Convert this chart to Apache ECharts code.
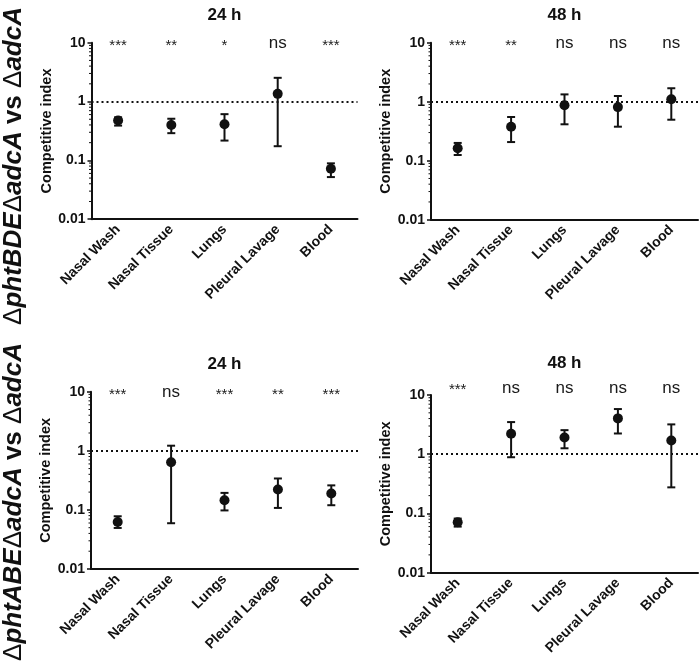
<!DOCTYPE html>
<html>
<head>
<meta charset="utf-8">
<script src="https://cdn.jsdelivr.net/npm/echarts@6/dist/echarts.min.js"></script>
<style>
html,body{margin:0;padding:0;background:#fff;}
#main{width:700px;height:666px;}
</style>
</head>
<body>
<div id="main"></div>
<script>
// ---- data ----
const categories = ['Nasal Wash', 'Nasal Tissue', 'Lungs', 'Pleural Lavage', 'Blood'];
const yTicks = [0.01, 0.1, 1, 10];
const minorTickValues = [0.02,0.03,0.04,0.05,0.06,0.07,0.08,0.09,0.2,0.3,0.4,0.5,0.6,0.7,0.8,0.9,2,3,4,5,6,7,8,9];
const panelTitles = ['24 h', '48 h', '24 h', '48 h'];
const rowLabels = ['phtBDE', 'phtABE'];

const bde24Mean = [0.475, 0.40, 0.41, 1.35, 0.072];
const bde24Low  = [0.39, 0.29, 0.217, 0.174, 0.052];
const bde24High = [0.54, 0.51, 0.61, 2.53, 0.089];
const bde24Sig  = ['***', '**', '*', 'ns', '***'];

const bde48Mean = [0.162, 0.377, 0.87, 0.81, 1.10];
const bde48Low  = [0.125, 0.207, 0.414, 0.377, 0.495];
const bde48High = [0.20, 0.55, 1.33, 1.25, 1.69];
const bde48Sig  = ['***', '**', 'ns', 'ns', 'ns'];

const abe24Mean = [0.0626, 0.64, 0.146, 0.221, 0.19];
const abe24Low  = [0.0495, 0.0595, 0.098, 0.108, 0.12];
const abe24High = [0.078, 1.22, 0.194, 0.34, 0.26];
const abe24Sig  = ['***', 'ns', '***', '**', '***'];

const abe48Mean = [0.0713, 2.21, 1.92, 4.03, 1.71];
const abe48Low  = [0.060, 0.89, 1.26, 2.24, 0.276];
const abe48High = [0.082, 3.49, 2.55, 5.79, 3.19];
const abe48Sig  = ['***', 'ns', 'ns', 'ns', 'ns'];

const refValue = 1;

// ---- layout / style ----
const panels = [
  {mean: bde24Mean, low: bde24Low, high: bde24High, sig: bde24Sig, grid: {left: 91.5, top: 42.7, width: 266, height: 176.5}, sigShift: 0},
  {mean: bde48Mean, low: bde48Low, high: bde48High, sig: bde48Sig, grid: {left: 431, top: 42.7, width: 267, height: 177}, sigShift: 0},
  {mean: abe24Mean, low: abe24Low, high: abe24High, sig: abe24Sig, grid: {left: 91, top: 391.7, width: 267, height: 177.3}, sigShift: 0},
  {mean: abe48Mean, low: abe48Low, high: abe48High, sig: abe48Sig, grid: {left: 431, top: 395, width: 267, height: 177.7}, sigShift: -8}
];
const INK = '#111';
const FONT = 'Liberation Sans, Arial, sans-serif';

const grids = [], xAxes = [], yAxes = [], series = [], graphics = [];

panels.forEach((p, i) => {
  grids.push(Object.assign({outerBoundsMode: 'none', containLabel: false}, p.grid));
  xAxes.push({
    type: 'category', gridIndex: i, data: categories,
    axisLine: {lineStyle: {color: INK, width: 2}},
    axisTick: {alignWithLabel: true, length: 4, lineStyle: {color: INK, width: 1.5}},
    axisLabel: {interval: 0, rotate: 45, margin: 8, color: INK, fontFamily: FONT, fontWeight: 'bold', fontSize: 14},
    splitLine: {show: false}
  });
  yAxes.push({
    type: 'log', gridIndex: i, logBase: 10, min: yTicks[0], max: yTicks[yTicks.length - 1],
    name: 'Competitive index', nameLocation: 'middle', nameGap: 37,
    nameTextStyle: {color: INK, fontFamily: FONT, fontWeight: 'bold', fontSize: 14.5},
    axisLine: {show: true, lineStyle: {color: INK, width: 2}},
    axisTick: {show: true, length: 4, lineStyle: {color: INK, width: 1.5}},
    axisLabel: {margin: 6, color: INK, fontFamily: FONT, fontWeight: 'bold', fontSize: 14,
      formatter: v => String(+v)},
    splitLine: {show: false}, minorTick: {show: false}
  });
  // minor ticks on log scale
  series.push({
    type: 'custom', xAxisIndex: i, yAxisIndex: i, silent: true, clip: false, z: 1,
    data: minorTickValues.map(v => [0, v]),
    renderItem: (params, api) => {
      const y = api.coord([0, api.value(1)])[1];
      const x = params.coordSys.x;
      return {type: 'line', shape: {x1: x - 2.5, y1: y, x2: x, y2: y}, style: {stroke: INK, lineWidth: 1}};
    }
  });
  // error bars
  series.push({
    type: 'custom', xAxisIndex: i, yAxisIndex: i, silent: true, z: 3,
    data: categories.map((c, k) => [k, p.low[k], p.high[k]]),
    renderItem: (params, api) => {
      const k = api.value(0);
      const lo = api.coord([k, api.value(1)]);
      const hi = api.coord([k, api.value(2)]);
      const w = 4;
      const st = {stroke: INK, lineWidth: 2};
      return {type: 'group', children: [
        {type: 'line', shape: {x1: lo[0], y1: lo[1], x2: hi[0], y2: hi[1]}, style: st},
        {type: 'line', shape: {x1: hi[0] - w, y1: hi[1], x2: hi[0] + w, y2: hi[1]}, style: st},
        {type: 'line', shape: {x1: lo[0] - w, y1: lo[1], x2: lo[0] + w, y2: lo[1]}, style: st}
      ]};
    }
  });
  // means + reference line
  series.push({
    type: 'scatter', xAxisIndex: i, yAxisIndex: i, z: 4,
    data: categories.map((c, k) => [k, p.mean[k]]),
    symbol: 'circle', symbolSize: 10, itemStyle: {color: INK, opacity: 1},
    emphasis: {disabled: true},
    markLine: {
      silent: true, symbol: ['none', 'none'], label: {show: false},
      lineStyle: {color: INK, width: 2, type: [2, 3], opacity: 1},
      data: [{yAxis: refValue}]
    }
  });
  // significance labels
  series.push({
    type: 'scatter', xAxisIndex: i, yAxisIndex: i, z: 5, clip: false, silent: true,
    symbolSize: 0, itemStyle: {opacity: 1}, emphasis: {disabled: true},
    data: categories.map((c, k) => {
      const star = p.sig[k] !== 'ns';
      return {
        value: [k, yTicks[yTicks.length - 1]],
        label: {
          show: true, position: 'inside', formatter: p.sig[k],
          fontFamily: FONT, color: '#1a1a1a', opacity: 1,
          fontSize: star ? 15 : 17,
          offset: [0, (star ? 3 : 1) + p.sigShift]
        }
      };
    })
  });
  // panel title
  graphics.push({
    type: 'text', x: p.grid.left + p.grid.width / 2, y: p.grid.top - (i === 3 ? 32 : 27),
    style: {text: panelTitles[i], align: 'center', verticalAlign: 'middle',
      font: 'bold 17px ' + FONT, fill: INK}
  });
});

// row labels
const rowRich = {
  d: {fontFamily: FONT, fontSize: 26, fontWeight: 'normal', fill: INK, color: INK},
  i: {fontFamily: FONT, fontSize: 26, fontWeight: 'bold', fontStyle: 'italic', fill: INK, color: INK},
  b: {fontFamily: FONT, fontSize: 26, fontWeight: 'bold', fill: INK, color: INK}
};
[[14, 166], [14, 502]].forEach((pos, r) => {
  graphics.push({
    type: 'text', x: pos[0], y: pos[1], rotation: Math.PI / 2,
    style: {
      text: '{d|Δ}{i|' + rowLabels[r] + '}{d|Δ}{i|adcA}{b| vs }{d|Δ}{i|adcA}',
      rich: rowRich, align: 'center', verticalAlign: 'middle', fill: INK
    }
  });
});

const chart = echarts.init(document.getElementById('main'), null, {renderer: 'canvas'});
chart.setOption({
  animation: false,
  backgroundColor: '#fff',
  grid: grids, xAxis: xAxes, yAxis: yAxes, series: series,
  graphic: graphics
});
</script>
</body>
</html>
